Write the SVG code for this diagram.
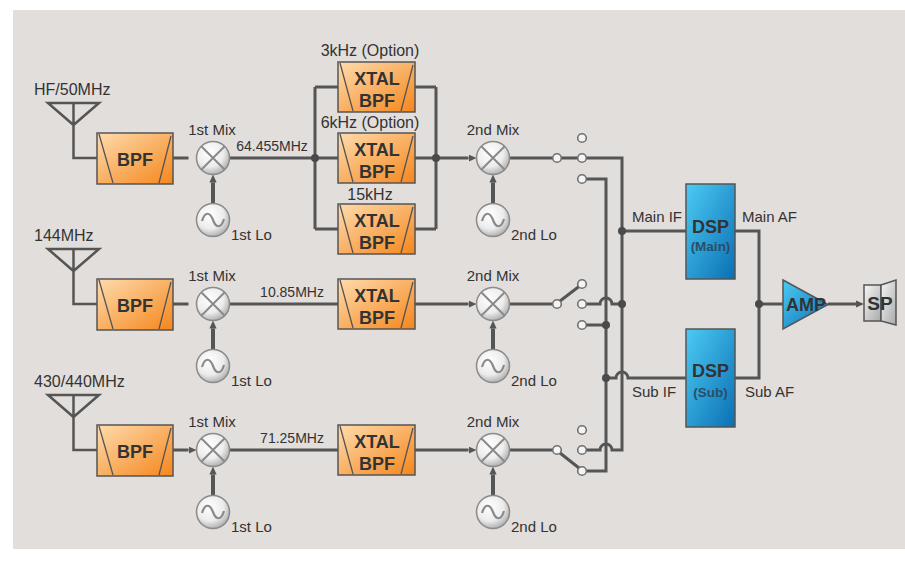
<svg xmlns="http://www.w3.org/2000/svg" xmlns:xlink="http://www.w3.org/1999/xlink" width="905" height="564" viewBox="0 0 905 564">
<style>
.t{font-family:"Liberation Sans",Arial,sans-serif;font-size:15px;fill:#333}
.ant{font-size:16px}
.fq{font-size:14px}
.m{text-anchor:middle}
.b{font-family:"Liberation Sans",Arial,sans-serif;font-weight:bold;font-size:18px;fill:#333;text-anchor:middle}
.s{font-family:"Liberation Sans",Arial,sans-serif;font-weight:bold;font-size:13.5px;fill:#2b4e68;text-anchor:middle}
.w{fill:none;stroke:#555;stroke-width:3}
.lo{fill:none;stroke:#555;stroke-width:4}
.c{fill:#f4f4f4;stroke:#707070;stroke-width:1.6}
.d{fill:#4a4a4a}
.bx{stroke:#555;stroke-width:1.5}
</style>
<defs>
<linearGradient id="gOr" x1="0" y1="0" x2="1" y2="1"><stop offset="0" stop-color="#fedcae"/><stop offset="1" stop-color="#f5861c"/></linearGradient>
<linearGradient id="gBl" x1="0" y1="0" x2="1" y2="1"><stop offset="0" stop-color="#4ccbf4"/><stop offset="1" stop-color="#0a6fb4"/></linearGradient>
<linearGradient id="gSp" x1="0" y1="0" x2="1" y2="1"><stop offset="0" stop-color="#f7f7f7"/><stop offset="1" stop-color="#a9a9a9"/></linearGradient>
<radialGradient id="gCir" cx="0.4" cy="0.35" r="0.7"><stop offset="0" stop-color="#ffffff"/><stop offset="0.6" stop-color="#ececec"/><stop offset="1" stop-color="#a8a8a8"/></radialGradient>
<marker id="arr" viewBox="0 0 10 10" refX="0" refY="5" markerWidth="8" markerHeight="8" markerUnits="userSpaceOnUse" orient="auto"><path d="M0,0.5 L10,5 L0,9.5 z" fill="#555"/></marker>
<g id="mix"><circle r="16.5" fill="url(#gCir)" stroke="#8a8a8a" stroke-width="1.5"/><path d="M-11.5,-11.5 L11.5,11.5 M11.5,-11.5 L-11.5,11.5" stroke="#8a8a8a" stroke-width="2"/></g>
<g id="osc"><circle r="16.5" fill="url(#gCir)" stroke="#8a8a8a" stroke-width="1.5"/><path d="M-11,1 C-8,-9 -3,-8 0,0 C3,8 8,9 11,-1" fill="none" stroke="#8a8a8a" stroke-width="2.2"/></g>
<g id="bpf"><rect width="76" height="51" fill="url(#gOr)" class="bx"/><path d="M2,1 L16,50 M74,3 L62,50" stroke="#555" stroke-width="1.3"/></g>
<g id="xtal"><rect width="77" height="50" fill="url(#gOr)" class="bx"/><path d="M2,1 L15,49 M75,3 L63,49" stroke="#555" stroke-width="1.3"/></g>
<g id="antsym"><path d="M-25.5,-55 H25.5 L0,-33 Z M0,-55 V0 H23.5" fill="none" stroke="#555" stroke-width="2.5"/></g>
</defs>
<rect x="13" y="10" width="892" height="539" fill="#e2dedb"/>

<g id="connectors">
<path class="w" d="M173,158 H188.5 M173,304 H188.5 M173,450 H188.5" marker-end="url(#arr)"/>
<path class="lo" d="M213,203.5 V182.5" marker-end="url(#arr)"/>
<path class="lo" d="M213,349.5 V328.5" marker-end="url(#arr)"/>
<path class="lo" d="M213,495.5 V474.5" marker-end="url(#arr)"/>
<path class="lo" d="M493,203.5 V182.5" marker-end="url(#arr)"/>
<path class="lo" d="M493,349.5 V328.5" marker-end="url(#arr)"/>
<path class="lo" d="M493,495.5 V474.5" marker-end="url(#arr)"/>
<path class="w" d="M229.5,158 H315 M229.5,304 H338 M229.5,450 H338"/>
<path class="w" d="M315,87 V229 M436,87 V229 M315,87 H338 M415,87 H436 M315,158 H338 M415,158 H436 M315,229 H338 M415,229 H436"/>
<path class="w" d="M436,158 H468.5" marker-end="url(#arr)"/>
<path class="w" d="M415,304 H468.5" marker-end="url(#arr)"/>
<path class="w" d="M415,450 H468.5" marker-end="url(#arr)"/>
<path class="w" d="M509.5,158 H553 M509.5,304 H553 M509.5,450 H553"/>
<path class="w" d="M561,158 H578 M560,301 L579,286.5 M560,453 L579,468"/>
<path class="w" d="M586,158 H622 V450 H612 a6,6 0 0 0 -12,0 H586"/>
<path class="w" d="M586,179 H606 V471 H586"/>
<path class="w" d="M586,304 H600 a6,6 0 0 1 12,0 H622 M586,325 H606"/>
<path class="w" d="M622,231 H686 M606,378 H616 a6,6 0 0 1 12,0 H686"/>
<path class="w" d="M735,231 H759 V378 H735 M759,304 H783"/>
<path class="w" d="M828,304 H856" marker-end="url(#arr)"/>
<circle class="d" cx="315" cy="158" r="4"/>
<circle class="d" cx="436" cy="158" r="4"/>
<circle class="d" cx="622" cy="231" r="4"/>
<circle class="d" cx="622" cy="304" r="4"/>
<circle class="d" cx="606" cy="325" r="4"/>
<circle class="d" cx="606" cy="378" r="4"/>
<circle class="d" cx="759" cy="304" r="4"/>
</g>

<g id="ant1"><use xlink:href="#antsym" href="#antsym" transform="translate(73.5,158)"/><text class="t ant" x="34" y="95">HF/50MHz</text></g>
<g id="ant2"><use xlink:href="#antsym" href="#antsym" transform="translate(73.5,304)"/><text class="t ant" x="34" y="241">144MHz</text></g>
<g id="ant3"><use xlink:href="#antsym" href="#antsym" transform="translate(73.5,450)"/><text class="t ant" x="34" y="387">430/440MHz</text></g>

<g id="bpf1"><use xlink:href="#bpf" href="#bpf" x="97" y="133"/><text class="b" x="135" y="166">BPF</text></g>
<g id="bpf2"><use xlink:href="#bpf" href="#bpf" x="97" y="279"/><text class="b" x="135" y="312">BPF</text></g>
<g id="bpf3"><use xlink:href="#bpf" href="#bpf" x="97" y="425"/><text class="b" x="135" y="458">BPF</text></g>

<g id="mix1a"><use xlink:href="#mix" href="#mix" x="213" y="158"/><text class="t m" x="212" y="135">1st Mix</text></g>
<g id="mix1b"><use xlink:href="#mix" href="#mix" x="213" y="304"/><text class="t m" x="212" y="281">1st Mix</text></g>
<g id="mix1c"><use xlink:href="#mix" href="#mix" x="213" y="450"/><text class="t m" x="212" y="427">1st Mix</text></g>
<g id="lo1a"><use xlink:href="#osc" href="#osc" x="213" y="220"/><text class="t" x="231" y="240">1st Lo</text></g>
<g id="lo1b"><use xlink:href="#osc" href="#osc" x="213" y="366"/><text class="t" x="231" y="386">1st Lo</text></g>
<g id="lo1c"><use xlink:href="#osc" href="#osc" x="213" y="512"/><text class="t" x="231" y="532">1st Lo</text></g>

<g id="freqs"><text class="t fq m" x="272" y="151">64.455MHz</text><text class="t fq m" x="292" y="297">10.85MHz</text><text class="t fq m" x="292" y="443">71.25MHz</text></g>

<g id="xtal3k"><use xlink:href="#xtal" href="#xtal" x="338" y="62"/><text class="t ant m" x="370" y="56">3kHz (Option)</text><text class="b" x="377" y="85">XTAL</text><text class="b" x="377" y="107">BPF</text></g>
<g id="xtal6k"><use xlink:href="#xtal" href="#xtal" x="338" y="133"/><text class="t ant m" x="370" y="128">6kHz (Option)</text><text class="b" x="377" y="156">XTAL</text><text class="b" x="377" y="178">BPF</text></g>
<g id="xtal15k"><use xlink:href="#xtal" href="#xtal" x="338" y="204"/><text class="t ant m" x="370" y="200">15kHz</text><text class="b" x="377" y="227">XTAL</text><text class="b" x="377" y="249">BPF</text></g>
<g id="xtal2"><use xlink:href="#xtal" href="#xtal" x="338" y="279"/><text class="b" x="377" y="302">XTAL</text><text class="b" x="377" y="324">BPF</text></g>
<g id="xtal3"><use xlink:href="#xtal" href="#xtal" x="338" y="425"/><text class="b" x="377" y="448">XTAL</text><text class="b" x="377" y="470">BPF</text></g>

<g id="mix2a"><use xlink:href="#mix" href="#mix" x="493" y="158"/><text class="t m" x="493" y="135">2nd Mix</text></g>
<g id="mix2b"><use xlink:href="#mix" href="#mix" x="493" y="304"/><text class="t m" x="493" y="281">2nd Mix</text></g>
<g id="mix2c"><use xlink:href="#mix" href="#mix" x="493" y="450"/><text class="t m" x="493" y="427">2nd Mix</text></g>
<g id="lo2a"><use xlink:href="#osc" href="#osc" x="493" y="220"/><text class="t" x="511" y="240">2nd Lo</text></g>
<g id="lo2b"><use xlink:href="#osc" href="#osc" x="493" y="366"/><text class="t" x="511" y="386">2nd Lo</text></g>
<g id="lo2c"><use xlink:href="#osc" href="#osc" x="493" y="512"/><text class="t" x="511" y="532">2nd Lo</text></g>

<g id="sw1"><circle class="c" cx="557" cy="158" r="4.3"/><circle class="c" cx="582" cy="138" r="4.3"/><circle class="c" cx="582" cy="158" r="4.3"/><circle class="c" cx="582" cy="179" r="4.3"/></g>
<g id="sw2"><circle class="c" cx="557" cy="304" r="4.3"/><circle class="c" cx="582" cy="284" r="4.3"/><circle class="c" cx="582" cy="304" r="4.3"/><circle class="c" cx="582" cy="325" r="4.3"/></g>
<g id="sw3"><circle class="c" cx="557" cy="450" r="4.3"/><circle class="c" cx="582" cy="430" r="4.3"/><circle class="c" cx="582" cy="450" r="4.3"/><circle class="c" cx="582" cy="471" r="4.3"/></g>

<g id="iflabels"><text class="t" x="632" y="222">Main IF</text><text class="t" x="632" y="397">Sub IF</text><text class="t" x="742" y="222">Main AF</text><text class="t" x="745" y="397">Sub AF</text></g>

<g id="dspMain"><rect x="686" y="184" width="49" height="95" fill="url(#gBl)" class="bx"/><text class="b" x="710.5" y="233">DSP</text><text class="s" x="710.5" y="251">(Main)</text></g>
<g id="dspSub"><rect x="686" y="329" width="49" height="98" fill="url(#gBl)" class="bx"/><text class="b" x="710.5" y="377">DSP</text><text class="s" x="710.5" y="397">(Sub)</text></g>

<g id="amp"><path d="M783,280 L828,304.5 L783,329 Z" fill="url(#gBl)" class="bx"/><text class="b" x="806" y="311">AMP</text></g>
<g id="sp"><rect x="864" y="285" width="17" height="36" fill="url(#gSp)" class="bx"/><path d="M881,285 L896,280 L896,325 L881,321 Z" fill="url(#gSp)" class="bx"/><text class="b" x="880" y="310" style="font-size:19px">SP</text></g>
</svg>
